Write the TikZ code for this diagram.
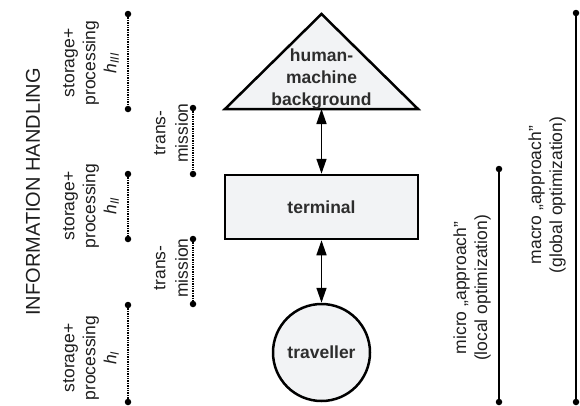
\documentclass[tikz,border=0pt]{standalone}
\usepackage{fontspec}
\setmainfont{Liberation Sans}
\usetikzlibrary{arrows.meta}
\definecolor{boxfill}{RGB}{242,243,245}
\definecolor{txt}{RGB}{30,30,30}
\definecolor{btxt}{RGB}{45,45,45}
\tikzset{
  dotend/.style={circle,fill=black,inner sep=0pt,minimum size=6.5pt},
  dotline/.style={line width=1.2pt,dash pattern=on 1.3pt off 1.1pt},
  solidline/.style={line width=1.5pt},
  lbl/.style={rotate=90,align=center,text=txt,font=\fontsize{17.5}{21}\selectfont,inner sep=0pt},
  blbl/.style={align=center,text=btxt,font=\fontsize{17.5}{22}\selectfont\bfseries,inner sep=0pt},
  shapebox/.style={draw=black,line width=2.5pt,fill=boxfill},
  biarrow/.style={line width=1.5pt,{Triangle[length=15pt,width=10pt]}-{Triangle[length=15pt,width=10pt]}}
}
\begin{document}
\begin{tikzpicture}[x=1pt,y=-1pt]
\useasboundingbox (0,0) rectangle (580,405);

% title
\node[lbl,font=\fontsize{20}{24}\selectfont] (title) at (33,192) {INFORMATION HANDLING};

% storage + processing labels
\node[lbl] (sp3) at (91,63) {storage+\\processing\\\textit{h}\textsubscript{\textit{III}}};
\node[lbl] (sp2) at (91,206) {storage+\\processing\\\textit{h}\textsubscript{\textit{II}}};
\node[lbl] (sp1) at (91,358) {storage+\\processing\\\textit{h}\textsubscript{\textit{I}}};

% transmission labels
\node[lbl,font=\fontsize{17.5}{22.5}\selectfont] (tr2) at (171,133) {trans-\\mission};
\node[lbl,font=\fontsize{17.5}{22.5}\selectfont] (tr1) at (171,268) {trans-\\mission};

% dotted ranges
\node[dotend] (a1) at (128,14) {};
\node[dotend] (a2) at (128,109) {};
\node[dotend] (b1) at (128,174) {};
\node[dotend] (b2) at (128,239) {};
\node[dotend] (c1) at (128,305) {};
\node[dotend] (c2) at (128,402) {};
\node[dotend] (d1) at (193,108) {};
\node[dotend] (d2) at (193,174) {};
\node[dotend] (e1) at (193,239) {};
\node[dotend] (e2) at (193,304) {};
\draw[dotline] (a1) -- (a2);
\draw[dotline] (b1) -- (b2);
\draw[dotline] (c1) -- (c2);
\draw[dotline] (d1) -- (d2);
\draw[dotline] (e1) -- (e2);

% triangle
\coordinate (apex) at (321.5,14);
\coordinate (bl) at (225,109);
\coordinate (br) at (418,109);
\coordinate (tribase) at (321.5,109);
\draw[shapebox,line join=miter] (apex) -- (br) -- (bl) -- cycle;
\node[blbl] (hmb) at (321.5,79) {human-\\machine\\background};

% terminal
\node[shapebox,minimum width=193pt,minimum height=64pt,inner sep=0pt] (term) at (321.5,207) {};
\node[blbl] (termtxt) at (term.center) {terminal};

% traveller
\node[shapebox,circle,minimum size=97pt,inner sep=0pt] (trav) at (321.5,352.5) {};
\node[blbl] (travtxt) at (trav.center) {traveller};

% arrows
\draw[biarrow] (tribase) -- (term.north);
\draw[biarrow] (term.south) -- (trav.north);

% right side
\node[lbl] (micro) at (472,288) {micro „approach”\\(local optimization)};
\node[lbl] (macro) at (547,195) {macro „approach”\\(global optimization)};
\node[dotend] (m1) at (499,169) {};
\node[dotend] (m2) at (499,402) {};
\node[dotend] (g1) at (576,13) {};
\node[dotend] (g2) at (576,402) {};
\draw[solidline] (m1) -- (m2);
\draw[solidline] (g1) -- (g2);
\end{tikzpicture}
\end{document}
